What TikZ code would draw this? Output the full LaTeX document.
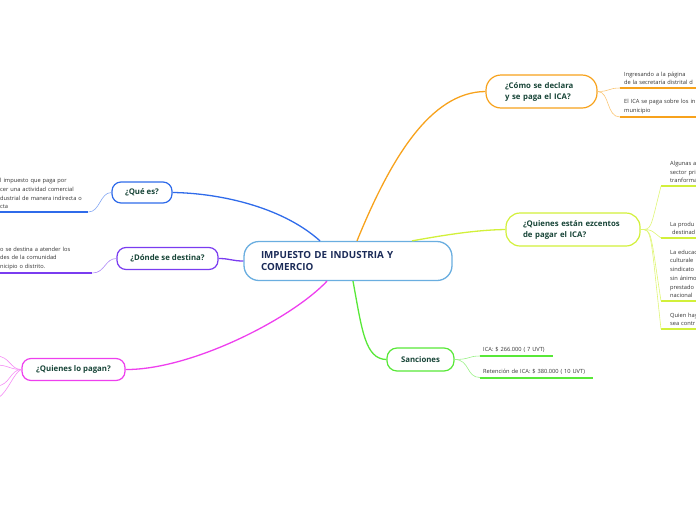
\documentclass[tikz,border=0pt]{standalone}
\usepackage{fontspec}
\setmainfont{Open Sans}
\definecolor{mainblue}{HTML}{6AAEE0}
\definecolor{maintext}{HTML}{1B2B58}
\definecolor{topictext}{HTML}{184538}
\definecolor{subtext}{HTML}{333333}
\definecolor{cblue}{HTML}{2F6BEA}
\definecolor{cpurple}{HTML}{7A3CF0}
\definecolor{cpink}{HTML}{EE3FEE}
\definecolor{corange}{HTML}{F7A21C}
\definecolor{cyellow}{HTML}{D2F03A}
\definecolor{cgreen}{HTML}{58E838}
\begin{document}
\begin{tikzpicture}[x=1pt,y=-1pt,
    topic/.style={draw,fill=white,line width=1.2pt,text=topictext,
      font=\fontsize{7.8}{11}\selectfont\bfseries,inner sep=0pt},
    sub/.style={anchor=south west,align=left,text=subtext,
      font=\fontsize{5.7}{8.7}\selectfont,inner xsep=3pt,inner ysep=3pt},
    branch/.style={line width=1.3pt},
    twig/.style={line width=0.6pt},
    uline/.style={line width=2pt}]
  \useasboundingbox (0,0) rectangle (696,520);
  \clip (0,0) rectangle (696,520);
  % centre
  \node[draw=mainblue,line width=1.3pt,rounded corners=15pt,fill=white,
    minimum height=39pt,text width=174pt,inner xsep=17pt,align=left,
    text=maintext,font=\fontsize{9.8}{12.5}\selectfont\bfseries]
    (ica) at (348,261) {IMPUESTO DE INDUSTRIA Y\\COMERCIO};
  % main topics
  \node[topic,draw=corange,rounded corners=15pt,minimum height=33pt,
    text width=73pt,inner xsep=19pt,align=left] (como) at (541.5,91.5)
    {¿Cómo se declara\\y se paga el ICA?};
  \node[topic,draw=cyellow,rounded corners=14pt,minimum height=33pt,
    text width=100pt,inner xsep=17pt,align=left] (exentos) at (573,229.5)
    {¿Quienes están ezcentos\\de pagar el ICA?};
  \node[topic,draw=cgreen,rounded corners=10pt,minimum width=67pt,
    minimum height=23pt] (sanc) at (420.5,359.5) {Sanciones};
  \node[topic,draw=cblue,rounded corners=9pt,minimum width=60pt,
    minimum height=21pt] (que) at (142,192.5) {¿Qué es?};
  \node[topic,draw=cpurple,rounded corners=9pt,minimum width=101pt,
    minimum height=22pt] (donde) at (167.5,258.5) {¿Dónde se destina?};
  \node[topic,draw=cpink,rounded corners=9pt,minimum width=103pt,
    minimum height=22pt] (pagan) at (73.5,369.5) {¿Quienes lo pagan?};
  % branches
  \draw[branch,cblue] ([xshift=-28pt]ica.north) .. controls (280,205) and (215,193) .. (que.east);
  \draw[branch,cpurple] (ica.west) .. controls (232,261) and (230,258.5) .. (donde.east);
  \draw[branch,cpink] ([xshift=-21pt]ica.south) .. controls (290,320) and (190,370) .. (pagan.east);
  \draw[branch,corange] ([xshift=9pt]ica.north) .. controls (390,160) and (430,92) .. (como.west);
  \draw[branch,cyellow] ([xshift=64pt]ica.north) .. controls (445,235) and (475,230) .. (exentos.west);
  \draw[branch,cgreen] ([xshift=5pt]ica.south) .. controls (362,330) and (365,359) .. (sanc.west);
  % que es
  \node[sub,text width=85pt] (que1) at (-3,212)
    {l impuesto que paga por\\cer una actividad comercial\\dustrial de manera indirecta o\\cta};
  \draw[uline,cblue] (que1.south west) -- (que1.south east);
  \draw[twig,cblue!60] (que1.south east) .. controls (100,212) and (100,192.5) .. (que.west);
  % donde
  \node[sub,text width=89pt] (donde1) at (-3,273)
    {o se destina a atender los\\des de la comunidad\\nicipio o distrito.};
  \draw[uline,cpurple] (donde1.south west) -- (donde1.south east);
  \draw[twig,cpurple!60] (donde1.south east) .. controls (105,273) and (105,258.5) .. (donde.west);
  % quienes lo pagan
  \coordinate (p1) at (-4,356);
  \coordinate (p2) at (-4,365);
  \coordinate (p3) at (-4,386);
  \coordinate (p4) at (-2,398);
  \draw[twig,cpink!60] (pagan.west) .. controls (10,369.5) and (10,356) .. (p1);
  \draw[twig,cpink!60] (pagan.west) .. controls (10,369.5) and (8,365) .. (p2);
  \draw[twig,cpink!60] (pagan.west) .. controls (10,369.5) and (10,386) .. (p3);
  \draw[twig,cpink!60] (pagan.west) .. controls (14,372) and (8,392) .. (p4);
  % como
  \node[sub,text width=90pt,inner xsep=4pt] (como1) at (620,88)
    {Ingresando a la página\\de la secretaría distrital d};
  \node[sub,text width=90pt,inner xsep=4pt] (como2) at (620,117)
    {El ICA se paga sobre los in\\municipio};
  \draw[uline,corange] (como1.south west) -- (como1.south east);
  \draw[uline,corange] (como2.south west) -- (como2.south east);
  \draw[twig,corange!60] (como.east) .. controls (610,91.5) and (608,88) .. (como1.south west);
  \draw[twig,corange!60] (como.east) .. controls (610,91.5) and (606,117) .. (como2.south west);
  % exentos
  \node[sub,text width=60pt,inner xsep=9pt] (ex1) at (661,186)
    {Algunas a\\sector pri\\tranforma};
  \node[sub,text width=60pt,inner xsep=9pt] (ex2) at (661,238)
    {La produ\\\hspace{2pt}destinad};
  \node[sub,text width=60pt,inner xsep=9pt] (ex3) at (661,301)
    {La educac\\culturale\\sindicato\\sin ánimo\\prestado\\nacional};
  \node[sub,text width=60pt,inner xsep=9pt] (ex4) at (661,329)
    {Quien hay\\sea contr};
  \foreach \e in {ex1,ex2,ex3,ex4} {
    \draw[uline,cyellow] (\e.south west) -- (\e.south east);
    \draw[twig,cyellow!70] (exentos.east) .. controls (652,229.5) and (650,229.5) .. (\e.south west);
  }
  % sanciones
  \node[sub,text width=67pt] (s1) at (480,356) {ICA: \$ 266.000 ( 7 UVT)};
  \node[sub,text width=107pt] (s2) at (480,377.5) {Retención de ICA: \$ 380.000 ( 10 UVT)};
  \draw[uline,cgreen] (s1.south west) -- (s1.south east);
  \draw[uline,cgreen] (s2.south west) -- (s2.south east);
  \draw[twig,cgreen!60] (sanc.east) .. controls (470,359.5) and (468,356) .. (s1.south west);
  \draw[twig,cgreen!60] (sanc.east) .. controls (470,359.5) and (466,377.5) .. (s2.south west);
\end{tikzpicture}
\end{document}
